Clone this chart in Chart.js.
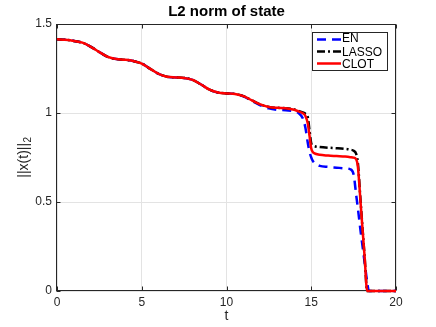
<!DOCTYPE html>
<html>
<head>
<meta charset="utf-8">
<script src="https://cdn.jsdelivr.net/npm/chart.js@4.4.1/dist/chart.umd.min.js"></script>
<style>
  html, body { margin: 0; padding: 0; background: #fff; }
  canvas { display: block; }
</style>
</head>
<body>
<canvas id="normChart" width="436" height="327"></canvas>
<script>
// time samples (denser around the drops)
const tValues = [0, 0.5, 1, 1.5, 2, 2.5, 3, 3.5, 4, 4.5, 5, 5.5, 6, 6.5, 7, 7.5, 8, 8.5, 9, 9.5,
  10, 10.5, 11, 11.5, 12, 12.5, 13, 13.5, 14, 14.25, 14.5, 14.65, 14.8, 14.9, 15, 15.1, 15.25, 15.5,
  16, 16.5, 17, 17.3, 17.5, 17.65, 17.75, 17.9, 18, 18.15, 18.3, 18.4, 18.5, 19, 19.5, 20];

const enValues = [1.414, 1.411, 1.405, 1.395, 1.372, 1.342, 1.315, 1.303, 1.299, 1.292, 1.278, 1.248, 1.220, 1.204, 1.200, 1.197, 1.186, 1.160, 1.131, 1.115,
  1.110, 1.107, 1.093, 1.068, 1.043, 1.026, 1.018, 1.015, 1.010, 1.000, 0.970, 0.920, 0.830, 0.780, 0.750, 0.730, 0.715, 0.703,
  0.697, 0.693, 0.689, 0.684, 0.655, 0.540, 0.465, 0.345, 0.270, 0.160, 0.050, 0, 0, 0, 0, 0];

const lassoValues = [1.414, 1.411, 1.405, 1.395, 1.372, 1.342, 1.315, 1.303, 1.299, 1.292, 1.278, 1.248, 1.220, 1.204, 1.200, 1.197, 1.186, 1.160, 1.131, 1.115,
  1.110, 1.107, 1.095, 1.071, 1.048, 1.034, 1.029, 1.027, 1.020, 1.012, 1.003, 0.996, 0.975, 0.900, 0.830, 0.818, 0.812, 0.809,
  0.805, 0.802, 0.798, 0.794, 0.788, 0.770, 0.720, 0.520, 0.385, 0.190, 0, 0, 0, 0, 0, 0];

const clotValues = [1.414, 1.411, 1.405, 1.395, 1.372, 1.342, 1.315, 1.303, 1.299, 1.292, 1.278, 1.248, 1.220, 1.204, 1.200, 1.197, 1.186, 1.160, 1.131, 1.115,
  1.110, 1.107, 1.095, 1.071, 1.048, 1.034, 1.029, 1.027, 1.018, 1.009, 0.999, 0.985, 0.940, 0.870, 0.800, 0.780, 0.771, 0.765,
  0.761, 0.758, 0.755, 0.752, 0.749, 0.740, 0.700, 0.510, 0.380, 0.190, 0, 0, 0, 0, 0, 0];

const seriesNames = ['EN', 'LASSO', 'CLOT'];
const xTicks = [0, 5, 10, 15, 20];
const yTicks = [0, 0.5, 1, 1.5];

const axisColor = '#262626';
const fontFamily = "'Liberation Sans', Arial, sans-serif";
Chart.defaults.font.family = fontFamily;

const toPoints = vals => vals.map((v, i) => ({ x: tValues[i], y: v }));

// box, inner ticks, axis labels and legend drawn the matlab way
const matlabAxes = {
  id: 'matlabAxes',
  beforeDatasetsDraw(chart) {
    const { ctx, chartArea: a, scales: { x, y } } = chart;
    const L = Math.round(a.left) - 0.5, R = Math.round(a.right) - 0.5;
    const T = Math.round(a.top) + 0.5, B = Math.round(a.bottom) - 0.5;
    ctx.save();
    ctx.strokeStyle = axisColor;
    ctx.lineWidth = 1;
    ctx.strokeRect(L, T, R - L, B - T);
    ctx.beginPath();
    xTicks.forEach(v => {
      const px = Math.round(x.getPixelForValue(v)) + 0.5;
      ctx.moveTo(px, B); ctx.lineTo(px, B - 4);
      ctx.moveTo(px, T); ctx.lineTo(px, T + 4);
    });
    yTicks.forEach(v => {
      const py = Math.round(y.getPixelForValue(v)) + 0.5;
      ctx.moveTo(L, py); ctx.lineTo(L + 4, py);
      ctx.moveTo(R, py); ctx.lineTo(R - 4, py);
    });
    ctx.stroke();
    ctx.restore();
  },
  afterDraw(chart) {
    const { ctx, chartArea: a } = chart;
    ctx.save();
    ctx.fillStyle = axisColor;

    // x label
    ctx.font = '14px ' + fontFamily;
    ctx.textAlign = 'center';
    ctx.textBaseline = 'alphabetic';
    ctx.fillText('t', (a.left + a.right) / 2, 320);

    // y label with subscript
    ctx.translate(28, (a.top + a.bottom) / 2);
    ctx.rotate(-Math.PI / 2);
    ctx.textAlign = 'left';
    ctx.font = '14px ' + fontFamily;
    const main = '||x(t)||';
    const wMain = ctx.measureText(main).width;
    ctx.font = '10px ' + fontFamily;
    const wSub = ctx.measureText('2').width;
    const start = -(wMain + wSub) / 2;
    ctx.font = '14px ' + fontFamily;
    ctx.fillText(main, start, 0);
    ctx.font = '10px ' + fontFamily;
    ctx.fillText('2', start + wMain + 0.5, 3);
    ctx.setTransform(1, 0, 0, 1, 0, 0);

    // legend
    const bx = 312.5, by = 32.5, bw = 75, bh = 38;
    ctx.fillStyle = '#fff';
    ctx.fillRect(bx, by, bw, bh);
    ctx.strokeStyle = axisColor;
    ctx.lineWidth = 1;
    ctx.strokeRect(bx, by, bw, bh);
    ctx.font = '12px ' + fontFamily;
    ctx.textAlign = 'left';
    ctx.textBaseline = 'alphabetic';
    chart.data.datasets.forEach((ds, i) => {
      const ly = 39.5 + i * 12;
      ctx.beginPath();
      ctx.strokeStyle = ds.borderColor;
      ctx.lineWidth = ds.borderWidth;
      ctx.setLineDash(ds.borderDash || []);
      ctx.moveTo(317, ly);
      ctx.lineTo(341, ly);
      ctx.stroke();
      ctx.setLineDash([]);
      ctx.fillStyle = '#000';
      ctx.fillText(ds.label, 342, ly + 2 + (i === 0 ? 0 : 2));
    });
    ctx.restore();
  }
};

const ctx = document.getElementById('normChart').getContext('2d');

new Chart(ctx, {
  type: 'line',
  data: {
    datasets: [
      {
        label: seriesNames[0],
        data: toPoints(enValues),
        borderColor: '#0000ff',
        borderWidth: 2.5,
        borderDash: [9, 6],
        order: 3
      },
      {
        label: seriesNames[1],
        data: toPoints(lassoValues),
        borderColor: '#000000',
        borderWidth: 2.5,
        borderDash: [8, 3, 2, 3],
        order: 2
      },
      {
        label: seriesNames[2],
        data: toPoints(clotValues),
        borderColor: '#ff0000',
        borderWidth: 2.5,
        order: 1
      }
    ]
  },
  options: {
    responsive: false,
    animation: false,
    devicePixelRatio: 1,
    layout: { padding: { left: 0, right: 40, top: 0, bottom: 0 } },
    elements: {
      point: { radius: 0 },
      line: { cubicInterpolationMode: 'monotone', fill: false }
    },
    datasets: { line: { clip: false } },
    plugins: {
      legend: { display: false },
      tooltip: { enabled: false },
      title: {
        display: true,
        fullSize: false,
        text: 'L2 norm of state',
        color: '#000',
        font: { size: 15, weight: 'bold', family: fontFamily },
        padding: { top: 3, bottom: 3 }
      }
    },
    scales: {
      x: {
        type: 'linear',
        min: 0,
        max: 20,
        afterBuildTicks: s => { s.ticks = xTicks.map(v => ({ value: v })); },
        afterFit: s => { s.height = 36; },
        grid: { color: '#e3e3e3', drawTicks: false },
        border: { display: false },
        ticks: { color: axisColor, font: { size: 12 }, padding: 4, callback: v => String(v) }
      },
      y: {
        type: 'linear',
        min: 0,
        max: 1.5,
        afterBuildTicks: s => { s.ticks = yTicks.map(v => ({ value: v })); },
        afterFit: s => { s.width = 57; },
        grid: { color: '#e3e3e3', drawTicks: false },
        border: { display: false },
        ticks: { color: axisColor, font: { size: 12 }, padding: 5, callback: v => String(v) }
      }
    }
  },
  plugins: [matlabAxes]
});
</script>
</body>
</html>
